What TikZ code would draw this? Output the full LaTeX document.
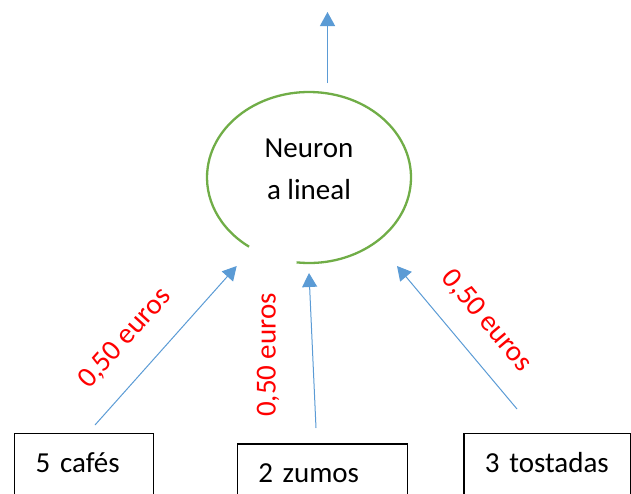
\documentclass[tikz,border=0pt]{standalone}
\usepackage{fontspec}
\setmainfont{Carlito}
\usetikzlibrary{arrows.meta,calc}
\definecolor{arrowblue}{HTML}{5B9BD5}
\definecolor{ringgreen}{HTML}{70AD47}
\definecolor{pricered}{HTML}{FF0000}
\begin{document}
\begin{tikzpicture}[x=1pt,y=1pt,
  link/.style={draw=arrowblue, line width=1pt, -{Triangle[length=14pt,width=15pt]}},
  itembox/.style={draw=black, line width=1.3pt, anchor=north west, align=left,
    inner xsep=21pt, inner ysep=9pt, text height=30pt, text depth=40pt,
    font=\fontsize{29}{35}\selectfont},
  price/.style={text=pricered, font=\fontsize{29}{35}\selectfont, inner sep=0pt}]
\useasboundingbox (0,0) rectangle (631,-493);
\clip (0,0) rectangle (631,-493);

% neuron: open ellipse with a gap at the bottom
\draw[ringgreen, line width=2.3pt]
  ($(309,-177.5)+(263:102 and 85.5)$) arc[start angle=263, end angle=594, x radius=102, y radius=85.5];
\node[align=center, inner sep=0pt, font=\fontsize{29}{42}\selectfont] (neuron) at (309,-169) {Neuron\\a lineal};

% output arrow
\coordinate (s0) at (327.5,-83);
\coordinate (t0) at (327.5,-12);
\draw[link, line width=1.3pt] (s0) -- (t0);

% inputs
\node[itembox, text width=96.7pt] (cafes) at (14,-432.7) {5 cafés};
\node[itembox, text width=128pt] (zumos) at (236.7,-443.3) {2 zumos};
\node[itembox, text width=125pt] (tostadas) at (463.3,-432.7) {3 tostadas};

\coordinate (s1) at (95,-425);
\coordinate (t1) at (236.7,-266);
\coordinate (s2) at (316,-428);
\coordinate (t2) at (309,-273);
\coordinate (s3) at (517,-409);
\coordinate (t3) at (397,-266);
\draw[link] (s1) -- (t1);
\draw[link] (s2) -- (t2);
\draw[link] (s3) -- (t3);

% weights
\node[price, rotate=48] (p1) at (125,-338.5) {0,50 euros};
\node[price, rotate=90] (p2) at (268,-355) {0,50 euros};
\node[price, rotate=-50] (p3) at (486.5,-321) {0,50 euros};
\end{tikzpicture}
\end{document}
